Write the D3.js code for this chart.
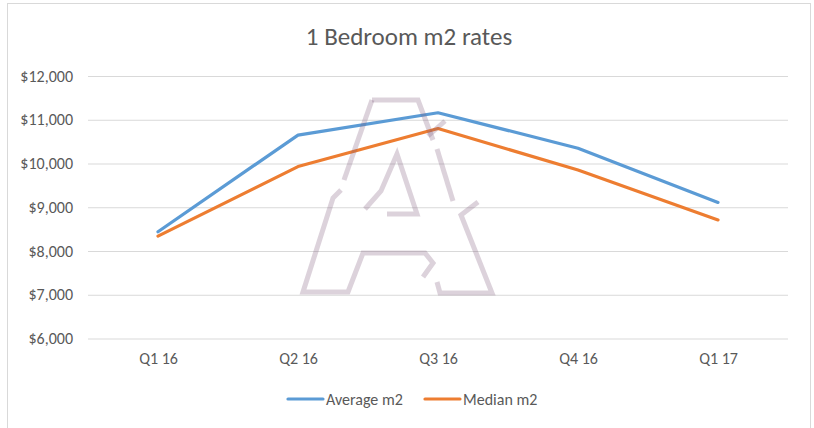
<!DOCTYPE html>
<html lang="en">
<head>
    <meta charset="UTF-8">
    <title>1 Bedroom m2 rates</title>
    <script src="https://d3js.org/d3.v7.min.js"></script>
    <style>
        body { margin: 0; background: #fff; }
        svg text { font-family: Carlito, Calibri, Lato, sans-serif; fill: #595959; }
        .grid line { stroke: #d9d9d9; stroke-width: 1; }
        .grid .domain { display: none; }
        .xaxis .domain { display: none; }
    </style>
</head>
<body>
    <svg id="chart"></svg>

    <script>
        // chart data
        var quarters = ["Q1 16", "Q2 16", "Q3 16", "Q4 16", "Q1 17"];
        var averageM2 = [8440, 10650, 11160, 10350, 9110];
        var medianM2 = [8340, 9930, 10800, 9850, 8710];
        var yTicks = [6000, 7000, 8000, 9000, 10000, 11000, 12000];
        var seriesNames = ["Average m2", "Median m2"];
        var seriesColors = ["#5b9bd5", "#ed7d31"];

        var W = 814, H = 428;
        var margin = { top: 76, right: 26, bottom: 89.5, left: 88 };
        var width = W - margin.left - margin.right;
        var height = H - margin.top - margin.bottom;

        var svg = d3.select("#chart")
            .attr("width", W)
            .attr("height", H);

        // outer chart border
        svg.append("rect")
            .attr("x", 7.5).attr("y", 3.5)
            .attr("width", 803).attr("height", 440)
            .attr("fill", "#fff")
            .attr("stroke", "#d9d9d9");

        svg.append("text")
            .attr("x", W / 2 + 2)
            .attr("y", 45)
            .attr("text-anchor", "middle")
            .style("font-size", "25px")
            .text("1 Bedroom m2 rates");

        var g = svg.append("g")
            .attr("transform", "translate(" + margin.left + "," + margin.top + ")");

        var x = d3.scalePoint()
            .domain(quarters)
            .range([0, width])
            .padding(0.5);

        var y = d3.scaleLinear()
            .domain([6000, 12000])
            .range([height, 0]);

        // gridlines + y labels
        var yAxis = g.append("g")
            .attr("class", "grid")
            .call(d3.axisLeft(y)
                .tickValues(yTicks)
                .tickSize(-width)
                .tickPadding(15)
                .tickFormat(d => "$" + d3.format(",")(d)));
        yAxis.selectAll("text").style("font-size", "16px");

        // x labels
        var xAxis = g.append("g")
            .attr("class", "xaxis")
            .attr("transform", "translate(0," + height + ")")
            .call(d3.axisBottom(x).tickSize(0).tickPadding(14));
        xAxis.selectAll("text").style("font-size", "16px");

        var series = [averageM2, medianM2];

        var line = d3.line()
            .x((d, i) => x(quarters[i]))
            .y(d => y(d));

        g.selectAll(".series")
            .data(series)
            .enter().append("path")
            .attr("class", "series")
            .attr("d", line)
            .attr("fill", "none")
            .attr("stroke", (d, i) => seriesColors[i])
            .attr("stroke-width", 3.2)
            .attr("stroke-linejoin", "round")
            .attr("stroke-linecap", "round");

        // watermark logo (decoration)
        var logo = svg.append("g")
            .attr("fill", "none")
            .attr("stroke", "rgb(130,95,125)")
            .attr("stroke-opacity", 0.28)
            .attr("stroke-width", 5)
            .attr("stroke-linejoin", "miter");
        [
            "M372,100 L418,100 L433,140",
            "M437,149 L453,201",
            "M478,202 L461,215 L492,293 L440,293 L437,282",
            "M423,277 L433,263 L425,253 L363,253 L348,292 L303,292 L333,198 L341,190",
            "M344,180 L372,100",
            "M365,209 L381,191 L397,154 L417,214 L387,214",
            "M428,136 L445,121"
        ].forEach(p => logo.append("path").attr("d", p));

        // legend
        var legend = svg.append("g")
            .attr("transform", "translate(288,399)");
        var offs = [0, 137];
        seriesNames.forEach((name, i) => {
            var lg = legend.append("g").attr("transform", "translate(" + offs[i] + ",0)");
            lg.append("line")
                .attr("x1", 0).attr("x2", 35)
                .attr("stroke", seriesColors[i])
                .attr("stroke-width", 3.2)
                .attr("stroke-linecap", "round");
            lg.append("text")
                .attr("x", 38)
                .attr("dy", "0.35em")
                .style("font-size", "16px")
                .text(name);
        });
    </script>
</body>
</html>
